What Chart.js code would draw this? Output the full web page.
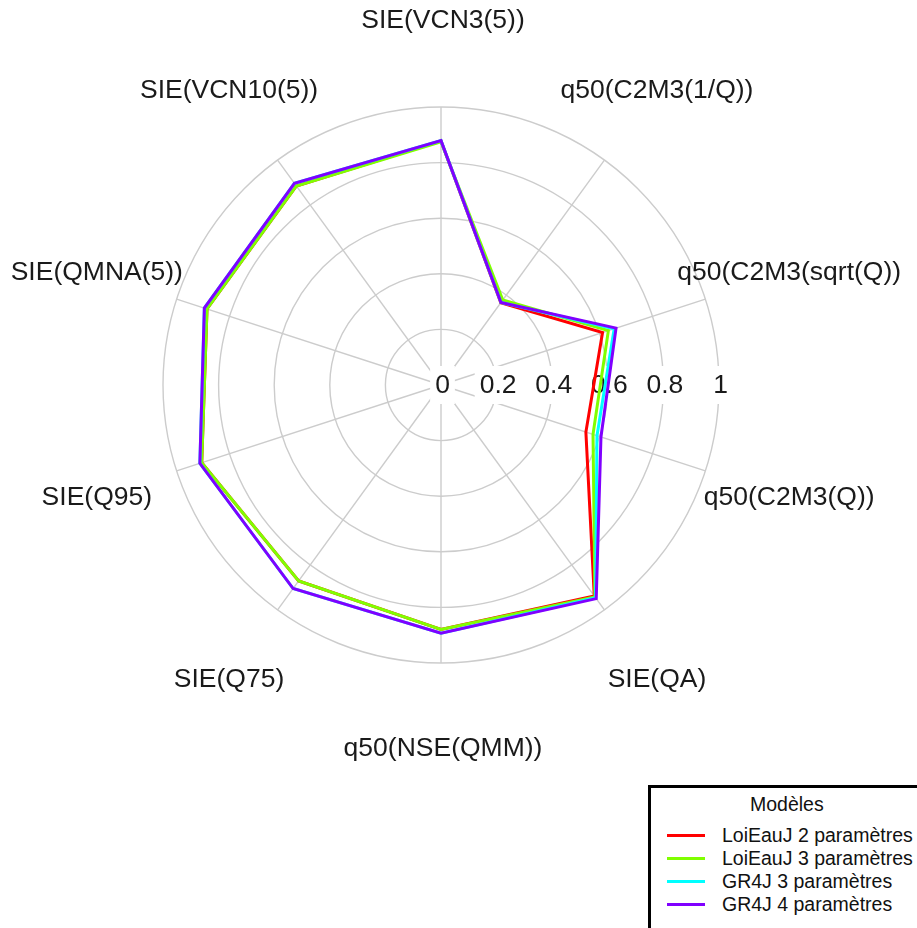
<!DOCTYPE html>
<html><head><meta charset="utf-8">
<script src="https://cdn.jsdelivr.net/npm/chart.js@4.4.1/dist/chart.umd.min.js"></script>
<style>
html,body{margin:0;padding:0;background:#fff;overflow:hidden;}
#wrap{position:relative;width:917px;height:928px;overflow:hidden;background:#fff;}
#c{position:absolute;left:0;top:0;}
#legend{position:absolute;left:648px;top:785px;width:300px;height:170px;border:3px solid #000;box-sizing:border-box;background:#fff;font-family:"Liberation Sans",Arial,sans-serif;font-size:19.5px;color:#111;}
.lt{position:absolute;white-space:nowrap;line-height:24px;height:24px;}
.key{position:absolute;height:3px;width:38px;}
</style></head><body>
<div id="wrap"><canvas id="c" width="917" height="928"></canvas><div id="legend"></div></div>
<script>
// ---- data ----
const axisLabels = ['SIE(VCN3(5))','q50(C2M3(1/Q))','q50(C2M3(sqrt(Q))','q50(C2M3(Q))','SIE(QA)','q50(NSE(QMM))','SIE(Q75)','SIE(Q95)','SIE(QMNA(5))','SIE(VCN10(5))'];
const tickValues = [0, 0.2, 0.4, 0.6, 0.8, 1];
const tickLabels = ['0', '0.2', '0.4', '0.6', '0.8', '1'];
const legendTitle = 'Modèles';
const seriesNames = ['LoiEauJ 2 paramètres','LoiEauJ 3 paramètres','GR4J 3 paramètres','GR4J 4 paramètres'];
const seriesColors = ['#FF0000','#80FF00','#00FFFF','#8000FF'];
const loiEauJ2 = [0.878, 0.366, 0.611, 0.548, 0.938, 0.879, 0.871, 0.905, 0.885, 0.885];
const loiEauJ3 = [0.875, 0.378, 0.633, 0.575, 0.942, 0.879, 0.871, 0.905, 0.885, 0.885];
const gr4j3    = [0.879, 0.367, 0.655, 0.590, 0.946, 0.893, 0.905, 0.912, 0.895, 0.897];
const gr4j4    = [0.879, 0.367, 0.662, 0.605, 0.950, 0.893, 0.905, 0.912, 0.895, 0.897];
const seriesValues = [loiEauJ2, loiEauJ3, gr4j3, gr4j4];

const FONT = '"Liberation Sans", Arial, sans-serif';

const labelPlugin = {
  id: 'customLabels',
  beforeDatasetsDraw(chart) {
    const s = chart.scales.r, ctx = chart.ctx;
    ctx.save();
    ctx.font = '26.5px ' + FONT;
    ctx.textAlign = 'center';
    ctx.textBaseline = 'middle';
    tickValues.forEach((v, i) => {
      const x = s.xCenter + s.getDistanceFromCenterForValue(v) + 1.5;
      const y = s.yCenter + 1;
      const w = ctx.measureText(tickLabels[i]).width;
      ctx.fillStyle = '#fff';
      ctx.fillRect(x - w / 2 - 5, y - 20, w + 10, 38);
      ctx.fillStyle = '#1a1a1a';
      ctx.fillText(tickLabels[i], x, y);
    });
    axisLabels.forEach((lab, i) => {
      const p = s.getPointPosition(i, s.drawingArea + 86);
      ctx.fillStyle = '#1a1a1a';
      ctx.fillText(lab, p.x + 2, p.y);
    });
    ctx.restore();
  }
};

const chart = new Chart(document.getElementById('c'), {
  type: 'radar',
  data: {
    labels: axisLabels,
    datasets: seriesNames.map((n, i) => ({
      label: n,
      data: seriesValues[i],
      borderColor: seriesColors[i],
      backgroundColor: seriesColors[i],
      borderWidth: 3,
      fill: false,
      pointRadius: 0,
      pointHoverRadius: 0,
      tension: 0,
      order: seriesNames.length - i
    }))
  },
  options: {
    responsive: false,
    animation: false,
    devicePixelRatio: 1,
    layout: { padding: { left: 163, top: 107, right: 198, bottom: 265 } },
    plugins: { legend: { display: false }, tooltip: { enabled: false }, title: { display: false } },
    scales: {
      r: {
        min: 0, max: 1,
        ticks: { display: false, stepSize: 0.2 },
        pointLabels: { display: false },
        grid: { circular: true, color: '#cccccc', lineWidth: 1.4 },
        angleLines: { display: true, color: '#cccccc', lineWidth: 1.4 }
      }
    }
  },
  plugins: [labelPlugin]
});

// ---- legend (built from the dataset definitions) ----
const lg = document.getElementById('legend');
const t = document.createElement('div');
t.className = 'lt'; t.textContent = legendTitle;
t.style.left = '99px'; t.style.top = (804 - 12 - 788) + 'px';
lg.appendChild(t);
chart.data.datasets.forEach((ds, i) => {
  const cy = 835 + i * 23 - 788;
  const k = document.createElement('div');
  k.className = 'key'; k.style.background = ds.borderColor;
  k.style.left = '16px'; k.style.top = (cy - 1.5) + 'px';
  lg.appendChild(k);
  const tx = document.createElement('div');
  tx.className = 'lt'; tx.textContent = ds.label;
  tx.style.left = '71px'; tx.style.top = (cy - 12) + 'px';
  lg.appendChild(tx);
});
</script>
</body></html>
